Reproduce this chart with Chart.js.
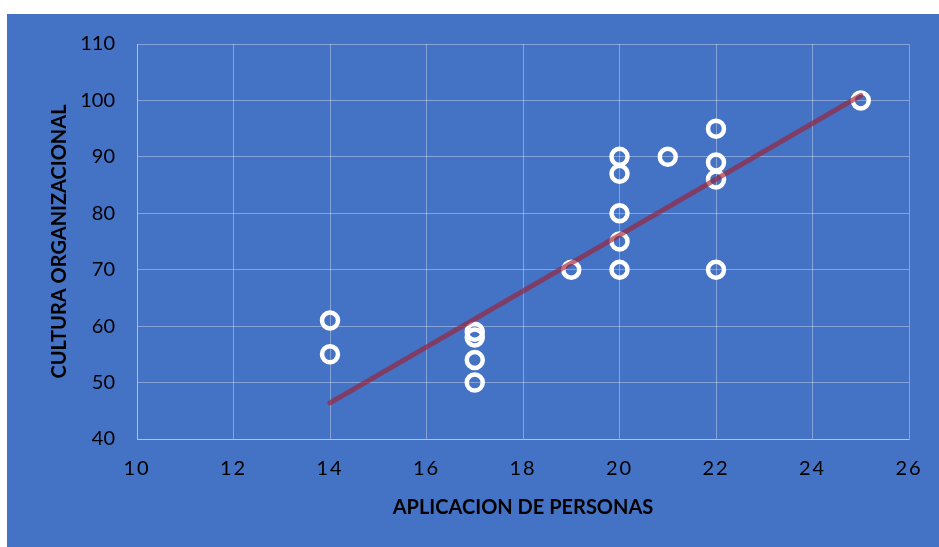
<!DOCTYPE html>
<html>
<head>
<meta charset="utf-8">
<script src="https://cdn.jsdelivr.net/npm/chart.js@4/dist/chart.umd.min.js"></script>
<style>
  html, body { margin: 0; padding: 0; background: #fff; }
  #wrap { position: absolute; left: 7px; top: 14px; width: 932px; height: 533px; background: #4472C4; }
</style>
</head>
<body>
<div id="wrap"><canvas id="chart" width="932" height="533"></canvas></div>
<script>
// survey scores: personnel application vs organisational culture
const aplicacion = [14, 14, 17, 17, 17, 17, 19, 20, 20, 20, 20, 20, 21, 22, 22, 22, 22, 25];
const cultura    = [61, 55, 59, 58, 54, 50, 70, 90, 87, 80, 75, 70, 90, 95, 89, 86, 70, 100];

// linear trend line end points
const trendX = [14, 25];
const trendY = [46.4, 100.9];

const xTicks = [10, 12, 14, 16, 18, 20, 22, 24, 26];
const yTicks = [40, 50, 60, 70, 80, 90, 100, 110];

const gridColor = 'rgba(255, 255, 255, 0.35)';

const chart = new Chart(document.getElementById('chart'), {
    type: 'scatter',
    data: {
        datasets: [{
            label: 'Cultura',
            data: aplicacion.map((x, i) => ({ x: x, y: cultura[i] })),
            pointRadius: 8,
            pointHoverRadius: 8,
            borderWidth: 4.5,
            borderColor: '#ffffff',
            backgroundColor: 'rgba(0,0,0,0)',
            order: 2
        }, {
            label: 'Tendencia',
            type: 'line',
            data: trendX.map((x, i) => ({ x: x, y: trendY[i] })),
            showLine: true,
            pointRadius: 0,
            borderWidth: 5,
            borderCapStyle: 'round',
            borderColor: 'rgba(160, 30, 50, 0.65)',
            order: 1
        }]
    },
    options: {
        responsive: false,
        animation: false,
        layout: { padding: { top: 30, right: 30, left: 0, bottom: 0 } },
        plugins: {
            legend: { display: false },
            tooltip: { enabled: false }
        },
        scales: {
            x: {
                type: 'linear',
                min: 10,
                max: 26,
                afterBuildTicks: (s) => { s.ticks = xTicks.map(v => ({ value: v })); },
                afterFit: (s) => {
                    s.height = 108;
                    s.paddingLeft = 0;
                    s.paddingRight = 0;
                },
                afterUpdate: (s) => {
                    if (s._spaced) return;
                    s._spaced = true;
                    const draw = s.drawLabels;
                    s.drawLabels = function (area) {
                        const ctx = this.ctx;
                        ctx.save();
                        ctx.letterSpacing = '2px';
                        draw.call(this, area);
                        ctx.restore();
                    };
                },
                grid: { color: gridColor, drawTicks: false },
                border: { color: gridColor },
                ticks: {
                    color: '#000',
                    padding: 18,
                    font: { family: 'Lato', size: 20 }
                },
                title: {
                    display: true,
                    text: 'APLICACION DE PERSONAS',
                    color: '#000',
                    padding: { top: 0, bottom: 27 },
                    font: { family: 'Lato', size: 20, weight: 'bold' }
                }
            },
            y: {
                min: 40,
                max: 110,
                afterBuildTicks: (s) => { s.ticks = yTicks.map(v => ({ value: v })); },
                afterFit: (s) => {
                    s.width = 130;
                    s.paddingTop = 0;
                    s.paddingBottom = 0;
                },
                grid: { color: gridColor, drawTicks: false },
                border: { color: gridColor },
                ticks: {
                    color: '#000',
                    padding: 22,
                    font: { family: 'Lato', size: 20 }
                },
                title: {
                    display: true,
                    text: 'CULTURA ORGANIZACIONAL',
                    color: '#000',
                    padding: { top: 41, bottom: 0 },
                    font: { family: 'Lato', size: 20, weight: 'bold' }
                }
            }
        }
    }
});
</script>
</body>
</html>
